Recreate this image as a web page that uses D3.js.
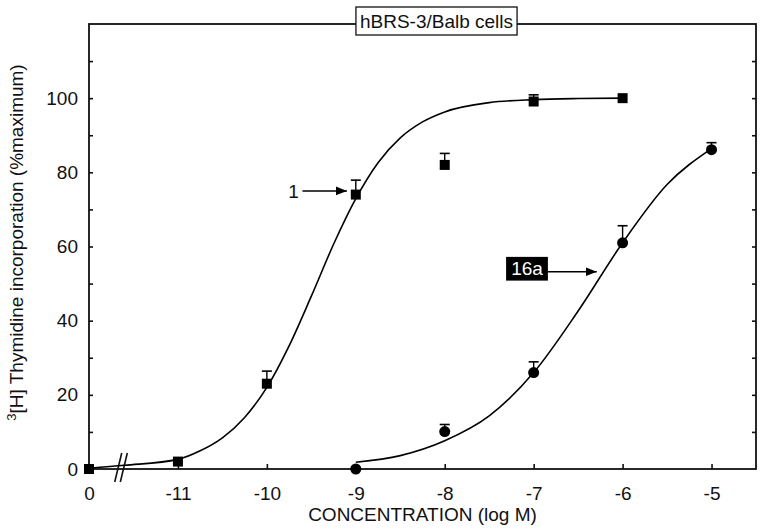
<!DOCTYPE html>
<html>
<head>
<meta charset="utf-8">
<script src="https://cdn.jsdelivr.net/npm/d3@7/dist/d3.min.js"></script>
<style>
  html, body { margin: 0; padding: 0; background: #fff; }
  svg { display: block; font-family: "Liberation Sans", Arial, Helvetica, sans-serif; }
</style>
</head>
<body>
<svg id="chart" width="764" height="532"></svg>
<script>
// ---------- data ----------
// x positions on the log-concentration axis; -12 stands for the "0" (no agonist) point
const xTickValues = [-12, -11, -10, -9, -8, -7, -6, -5];
const xTickLabels = ["0", "-11", "-10", "-9", "-8", "-7", "-6", "-5"];
const yTickValues = [0, 10, 20, 30, 40, 50, 60, 70, 80, 90, 100, 110, 120];
const yTickLabels = [0, 20, 40, 60, 80, 100];

// Compound 1 (squares)
const c1X   = [-12, -11, -10, -9, -8, -7, -6];
const c1Y   = [0, 2, 23, 74, 82, 99.1, 100];
const c1Err = [0, 0, 3.4, 3.9, 3.1, 1.8, 0];
// fitted curve for compound 1
const c1CurveX = [-12, -11.6, -11, -10.75, -10.5, -10.25, -10, -9.75, -9.5, -9.25, -9, -8.75, -8.5, -8.25, -8, -7.5, -7, -6.5, -6];
const c1CurveY = [0.2, 1.0, 2.6, 4.9, 8.4, 13.9, 22, 33.2, 46.6, 60.6, 72.9, 82.6, 89.3, 93.6, 96.3, 98.8, 99.6, 99.9, 100];

// Compound 16a (circles)
const c16X   = [-9, -8, -7, -6, -5];
const c16Y   = [0, 10.1, 26, 61, 86.1];
const c16Err = [0, 1.9, 2.9, 4.6, 1.9];
const c16CurveX = [-9, -8.5, -8, -7.5, -7, -6.5, -6, -5.5, -5];
const c16CurveY = [1.8, 3.6, 7.6, 14.3, 26, 42.6, 61, 76.7, 86.4];

const titleText = "hBRS-3/Balb cells";
const xTitle = "CONCENTRATION (log M)";

// ---------- layout ----------
const svg = d3.select("#chart");
const L = 89, R = 756, T = 24, B = 469;
const FS = 19;

const x = d3.scaleLinear().domain([-12, -4.5]).range([L, R]);
const y = d3.scaleLinear().domain([0, 120]).range([B, T]);

// axes (ticks pointing inward)
const yAxis = d3.axisLeft(y).tickValues(yTickValues).tickSize(-4).tickPadding(11)
  .tickFormat(d => yTickLabels.includes(d) ? d : "");
const gy = svg.append("g").attr("transform", `translate(${L},0)`).call(yAxis);

const yAxisR = d3.axisRight(y).tickValues(yTickValues).tickSize(-4).tickFormat("");
const gyr = svg.append("g").attr("transform", `translate(${R},0)`).call(yAxisR);

const xAxis = d3.axisBottom(x).tickValues(xTickValues).tickSize(-5).tickPadding(18)
  .tickFormat((d, i) => xTickLabels[i]);
const gx = svg.append("g").attr("transform", `translate(0,${B})`).call(xAxis);

[gy, gyr, gx].forEach(g => {
  g.select(".domain").remove();
  g.selectAll("line").attr("stroke", "#111").attr("stroke-width", 1.6);
  g.selectAll("text").attr("fill", "#111").style("font-size", FS + "px")
    .style("font-family", '"Liberation Sans", Arial, sans-serif');
});
gy.selectAll(".tick").filter(d => d === 120 || d === 0).select("line").remove();
gyr.selectAll(".tick").filter(d => d === 120 || d === 0).select("line").remove();

// frame
svg.append("rect").attr("x", L).attr("y", T).attr("width", R - L).attr("height", B - T)
  .attr("fill", "none").attr("stroke", "#111").attr("stroke-width", 1.8);

// axis break marks
const bx = x(-11.64);
[-2.8, 2.8].forEach(o => {
  svg.append("line")
    .attr("x1", bx + o - 3.5).attr("y1", B + 13)
    .attr("x2", bx + o + 3.5).attr("y2", B - 16)
    .attr("stroke", "#111").attr("stroke-width", 1.6);
});

// curves
const line = d3.line().x(d => x(d[0])).y(d => y(d[1])).curve(d3.curveMonotoneX);
svg.append("path").datum(c1CurveX.map((v, i) => [v, c1CurveY[i]]))
  .attr("d", line).attr("fill", "none").attr("stroke", "#000").attr("stroke-width", 1.6);
svg.append("path").datum(c16CurveX.map((v, i) => [v, c16CurveY[i]]))
  .attr("d", line).attr("fill", "none").attr("stroke", "#000").attr("stroke-width", 1.6);

// error bars (upper only)
function errBars(xs, ys, es) {
  xs.forEach((xv, i) => {
    if (!es[i]) return;
    const px = x(xv), y0 = y(ys[i]), y1 = y(ys[i] + es[i]);
    svg.append("line").attr("x1", px).attr("x2", px).attr("y1", y0).attr("y2", y1)
      .attr("stroke", "#000").attr("stroke-width", 1.4);
    svg.append("line").attr("x1", px - 5).attr("x2", px + 5).attr("y1", y1).attr("y2", y1)
      .attr("stroke", "#000").attr("stroke-width", 1.6);
  });
}
errBars(c1X, c1Y, c1Err);
errBars(c16X, c16Y, c16Err);

// markers
svg.append("g").selectAll("rect").data(c1X.map((v, i) => [v, c1Y[i]])).join("rect")
  .attr("x", d => x(d[0]) - 5).attr("y", d => y(d[1]) - 5)
  .attr("width", 10).attr("height", 10).attr("fill", "#000");
svg.append("g").selectAll("circle").data(c16X.map((v, i) => [v, c16Y[i]])).join("circle")
  .attr("cx", d => x(d[0])).attr("cy", d => y(d[1])).attr("r", 5.5).attr("fill", "#000");

// arrowhead
svg.append("defs").append("marker").attr("id", "ah")
  .attr("viewBox", "0 0 10 10").attr("refX", 10).attr("refY", 5)
  .attr("markerWidth", 11).attr("markerHeight", 11).attr("markerUnits", "userSpaceOnUse")
  .attr("orient", "auto")
  .append("path").attr("d", "M0,1 L10,5 L0,9 Z").attr("fill", "#000");

// label "1"
svg.append("text").attr("x", x(-9.64)).attr("y", y(75)).attr("dy", "0.35em")
  .attr("text-anchor", "end").style("font-size", FS + "px").attr("fill", "#111").text("1");
svg.append("line").attr("x1", x(-9.6)).attr("x2", x(-9.1)).attr("y1", y(75)).attr("y2", y(75))
  .attr("stroke", "#000").attr("stroke-width", 1.5).attr("marker-end", "url(#ah)");

// label "16a" (black box, white text)
const bx0 = -7.31, bx1 = -6.84;
svg.append("rect").attr("x", x(bx0)).attr("y", y(57.2))
  .attr("width", x(bx1) - x(bx0)).attr("height", y(50.8) - y(57.2)).attr("fill", "#000");
svg.append("text").attr("x", (x(bx0) + x(bx1)) / 2).attr("y", y(54)).attr("dy", "0.35em")
  .attr("text-anchor", "middle").style("font-size", FS + "px").attr("fill", "#fff").text("16a");
svg.append("line").attr("x1", x(bx1)).attr("x2", x(-6.29)).attr("y1", y(53.2)).attr("y2", y(53.2))
  .attr("stroke", "#000").attr("stroke-width", 1.5).attr("marker-end", "url(#ah)");

// title box
const tg = svg.append("g");
const tt = tg.append("text").attr("x", (L + R) / 2 + 14).attr("y", 21).attr("dy", "0.35em")
  .attr("text-anchor", "middle").style("font-size", FS + "px").attr("fill", "#111").text(titleText);
const bb = tt.node().getBBox();
tg.insert("rect", "text").attr("x", bb.x - 4).attr("y", 7).attr("width", bb.width + 8).attr("height", 28)
  .attr("fill", "#fff").attr("stroke", "#111").attr("stroke-width", 1.3);

// axis titles
svg.append("text").attr("x", (L + R) / 2).attr("y", 521).attr("text-anchor", "middle")
  .style("font-size", FS + "px").attr("fill", "#111").text(xTitle);

const yt = svg.append("text").attr("transform", `translate(23,${(T + B) / 2 - 4}) rotate(-90)`)
  .attr("text-anchor", "middle").style("font-size", FS + "px").attr("fill", "#111");
yt.append("tspan").attr("baseline-shift", "super").style("font-size", "13px").text("3");
yt.append("tspan").text("[H] Thymidine incorporation (%maximum)");
</script>
</body>
</html>
